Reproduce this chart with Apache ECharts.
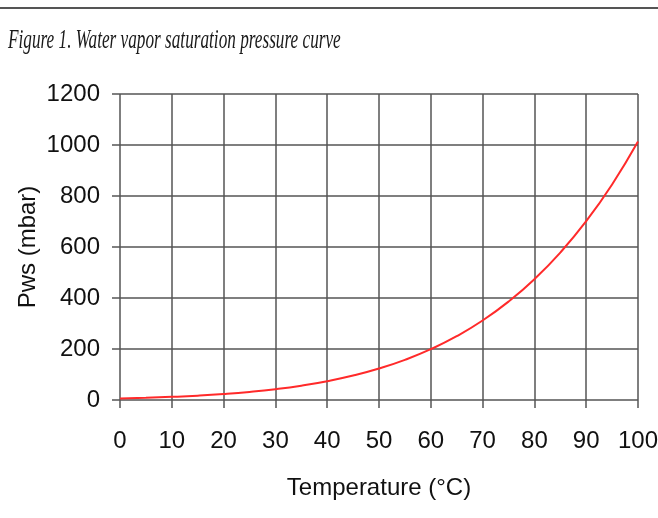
<!DOCTYPE html>
<html><head><meta charset="utf-8">
<script src="https://cdn.jsdelivr.net/npm/echarts@6/dist/echarts.min.js"></script>
<style>html,body{margin:0;padding:0;background:#fff}#c{width:658px;height:518px}</style>
</head><body><div id="c"></div>
<script>
const temperatures = [0,5,10,15,20,25,30,35,40,45,50,55,60,65,70,75,80,85,90,95,100];
const pressures = [6.1,8.7,12.3,17.0,23.4,31.7,42.4,56.2,73.8,95.8,123.4,157.5,199.3,250.2,311.8,385.8,473.8,578.1,701.1,845.3,1013.3];
const xTicks = [0,10,20,30,40,50,60,70,80,90,100];
const yTicks = [0,200,400,600,800,1000,1200];
const titleText = 'Figure 1. Water vapor saturation pressure curve';

const chart = echarts.init(document.getElementById('c'));
chart.setOption({
  animation:false,
  backgroundColor:'#fff',
  graphic:[
    {type:'line',shape:{x1:0,y1:8,x2:658,y2:8},style:{stroke:'#555',lineWidth:2}},
    {type:'text',x:8,y:41,scaleX:0.615,style:{text:titleText,font:'italic 28px "Liberation Serif"',fill:'#1a1a1a',textVerticalAlign:'middle'}}
  ],
  grid:{left:120,right:20,top:94,bottom:118,containLabel:false,outerBoundsMode:'none'},
  xAxis:{type:'value',min:0,max:100,interval:10,
    name:'Temperature (°C)',nameLocation:'middle',nameGap:76,nameMoveOverlap:false,
    nameTextStyle:{fontFamily:'Liberation Sans',fontSize:24,color:'#111'},
    axisLine:{show:false},
    axisTick:{show:true,length:8,lineStyle:{color:'#555',width:1.5}},
    axisLabel:{margin:29,fontFamily:'Liberation Sans',fontSize:24,color:'#111',
      formatter:v=>String(v)},
    splitLine:{show:true,lineStyle:{color:'#555',width:1.5}}
  },
  yAxis:{type:'value',min:0,max:1200,interval:200,
    name:'Pws (mbar)',nameLocation:'middle',nameGap:80,nameMoveOverlap:false,
    nameTextStyle:{fontFamily:'Liberation Sans',fontSize:24,color:'#111'},
    axisLine:{show:false},
    axisTick:{show:true,length:8,lineStyle:{color:'#555',width:1.5}},
    axisLabel:{margin:20,fontFamily:'Liberation Sans',fontSize:24,color:'#111',
      formatter:v=>String(v)},
    splitLine:{show:true,lineStyle:{color:'#555',width:1.5}}
  },
  series:[{type:'line',data:temperatures.map((t,i)=>[t,pressures[i]]),
    smooth:true,showSymbol:false,lineStyle:{color:'#ff2a2a',width:2}}]
});
</script></body></html>
